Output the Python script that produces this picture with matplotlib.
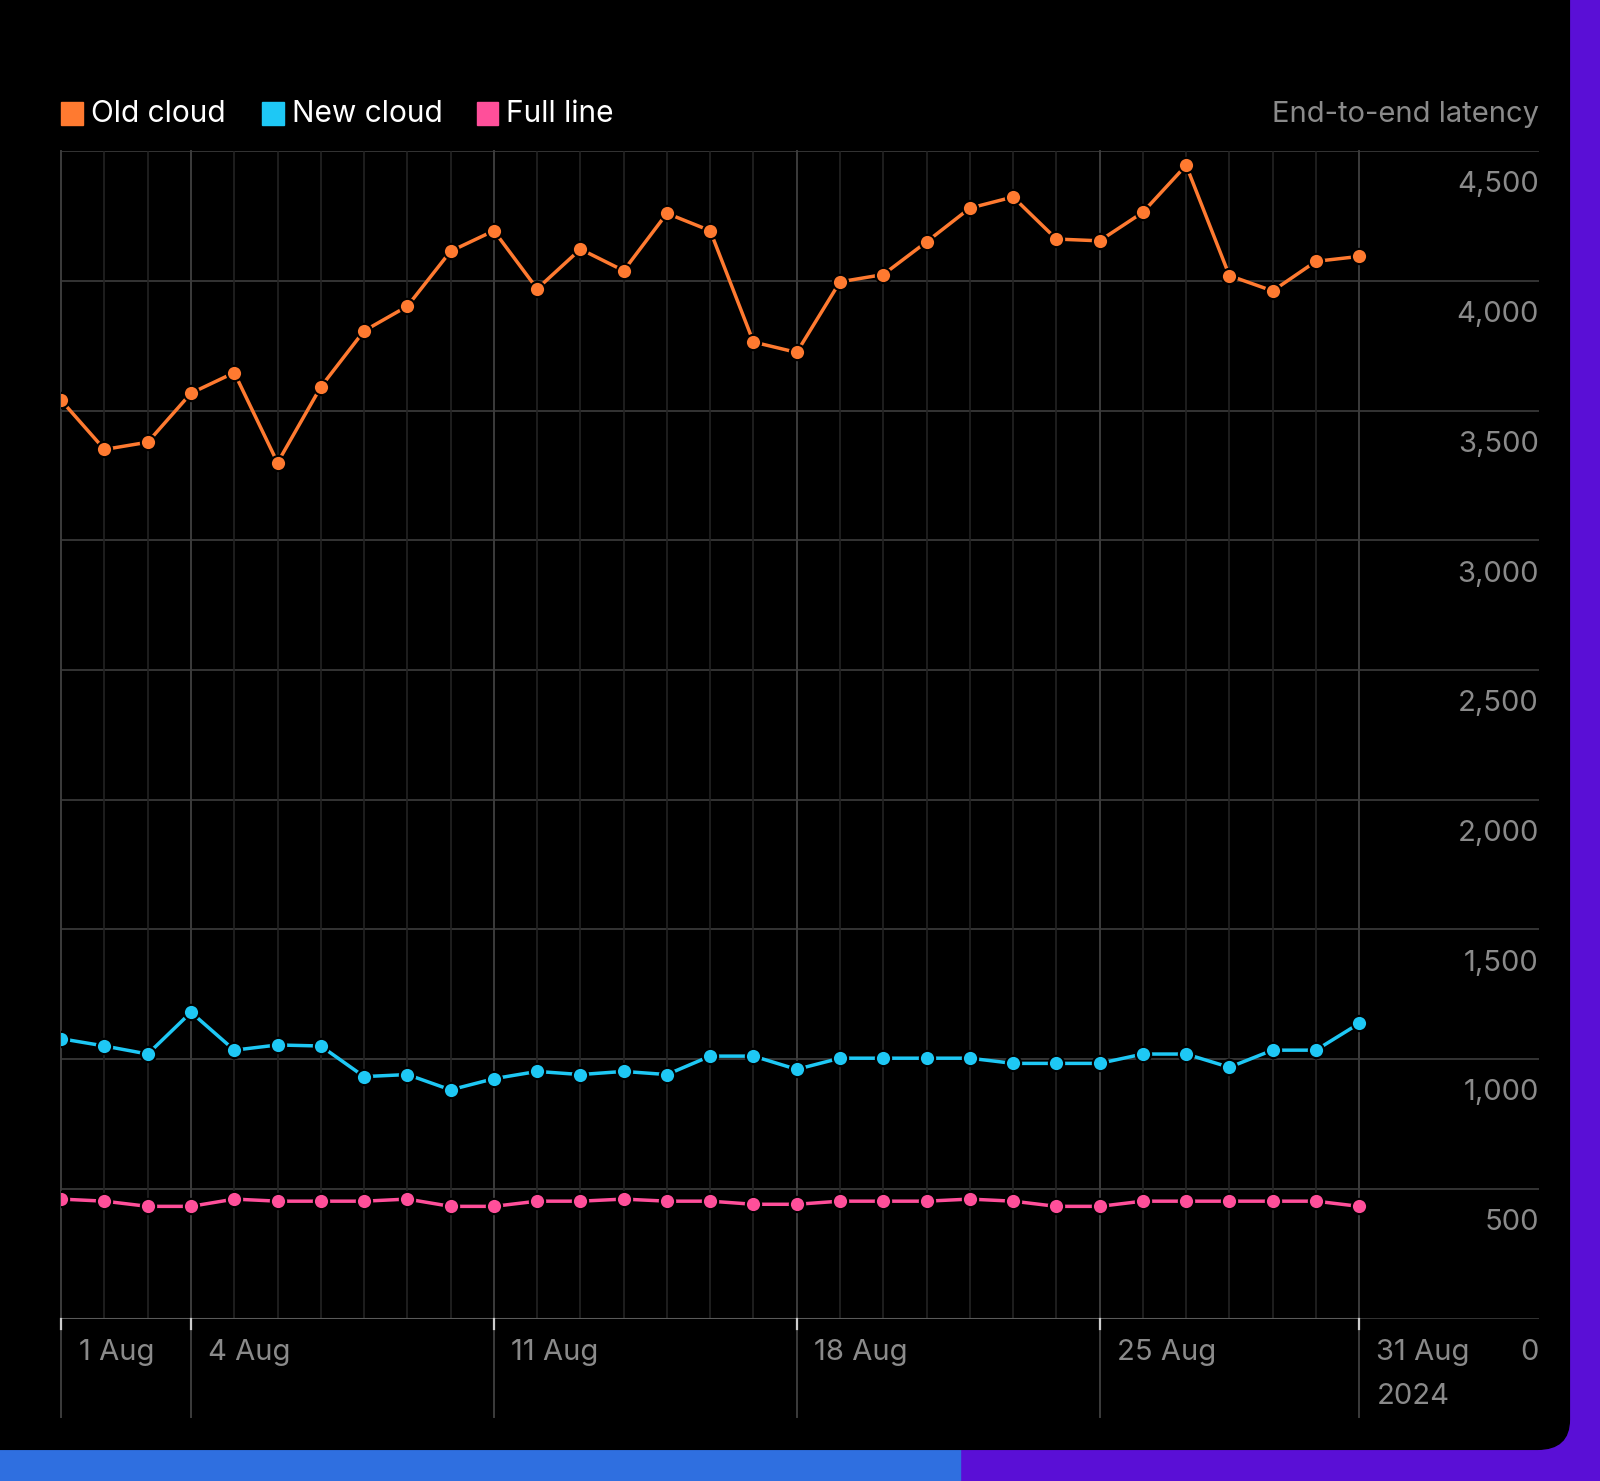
import numpy as np
import matplotlib.pyplot as plt
from matplotlib.patches import FancyBboxPatch, Rectangle

plt.rcParams['font.family'] = ['Inter', 'DejaVu Sans']

days = list(range(31))  # 1 Aug .. 31 Aug
old_cloud = [3539, 3350, 3378, 3567, 3646, 3299, 3591, 3807, 3902, 4114, 4193,
             3969, 4122, 4039, 4260, 4193, 3764, 3724, 3996, 4024, 4150, 4280,
             4323, 4161, 4154, 4264, 4445, 4020, 3961, 4075, 4094]
new_cloud = [1079, 1051, 1020, 1181, 1035, 1055, 1051, 933, 941, 882, 925,
             953, 941, 953, 941, 1012, 1012, 961, 1004, 1004, 1004, 1004,
             984, 984, 984, 1020, 1020, 969, 1035, 1035, 1138]
full_line = [461, 453, 433, 433, 461, 453, 453, 453, 461, 433, 433,
             453, 453, 461, 453, 453, 441, 441, 453, 453, 453, 461,
             453, 433, 433, 453, 453, 453, 453, 453, 433]
series = [("Old cloud", old_cloud, "#ff7a30"),
          ("New cloud", new_cloud, "#1ec8f5"),
          ("Full line", full_line, "#ff4f9a")]
major_days = [0, 3, 10, 17, 24, 30]
major_labels = ["1 Aug", "4 Aug", "11 Aug", "18 Aug", "25 Aug", "31 Aug"]
y_ticks = [500, 1000, 1500, 2000, 2500, 3000, 3500, 4000, 4500]

W, H = 1568, 1451
fx = lambda p: p / W
fy = lambda p: 1 - p / H

fig = plt.figure(figsize=(16, 14.81), dpi=100)
fig.patch.set_facecolor("#5a0fd6")
fig.patches.append(Rectangle((0, 0), 0.6, fy(1420), transform=fig.transFigure,
                             color="#2f6fe0", zorder=0))
fig.patches.append(FancyBboxPatch((-0.05, fy(1420)), fx(1538) + 0.05, 1.1,
                                  boxstyle="round,pad=0,rounding_size=0.02",
                                  transform=fig.transFigure, color="black", zorder=1))

ax = fig.add_axes([fx(60), fy(1292), fx(1508) - fx(60), fy(148) - fy(1292)])
ax.set_zorder(5)
ax.patch.set_alpha(0)
ax.set_xlim(0, 30 + (1508 - 1332) / 42.4)
ax.set_ylim(0, 4500)
for s in ax.spines.values():
    s.set_visible(False)
ax.set_xticks([])
ax.set_yticks([])

for v in [0] + y_ticks:
    ax.axhline(v, color="#383838", lw=1.3, zorder=1)
for d in days:
    if d in major_days:
        ax.plot([d, d], [-380, 4500], color="#3c3c3c", lw=1.4, zorder=1, clip_on=False)
    else:
        ax.axvline(d, 0, 1, color="#242424", lw=1.2, zorder=1)
ax.plot([0, 30], [0, 0], color="#5a5a5a", lw=1.5, zorder=1)
for d in major_days:
    ax.plot([d, d], [0, -40], color="#cccccc", lw=1.6, zorder=2, clip_on=False)

for name, vals, c in series:
    ax.plot(days, vals, color=c, lw=2.5, marker="o", ms=11, mec="black", mew=1.5, zorder=3)

fs = 21
for v in y_ticks:
    ax.text(1.0, v - 130, f"{v:,}", transform=ax.get_yaxis_transform(),
            ha="right", va="center", color="#8a8a8a", fontsize=fs)
ax.text(1.0, -130, "0", transform=ax.get_yaxis_transform(),
        ha="right", va="center", color="#8a8a8a", fontsize=fs)
for d, lab in zip(major_days, major_labels):
    ax.text(d + 0.4, -130, lab, ha="left", va="center", color="#8a8a8a", fontsize=fs)
ax.text(30 + 0.4, -300, "2024", ha="left", va="center", color="#8a8a8a", fontsize=fs)

# legend
lx = 60
for name, vals, c in series:
    fig.patches.append(Rectangle((fx(lx), fy(122)), fx(21), fy(100) - fy(122),
                                 transform=fig.transFigure, color=c, zorder=3))
    fig.text(fx(lx + 29), fy(112), name, color="white", fontsize=21.5, va="center", ha="left")
    lx += {"Old cloud": 197, "New cloud": 210, "Full line": 0}[name]
fig.text(fx(1508), fy(112), "End-to-end latency", color="#8a8a8a", fontsize=fs,
         ha="right", va="center")

fig.savefig("out.png", dpi=100, facecolor=fig.get_facecolor())
